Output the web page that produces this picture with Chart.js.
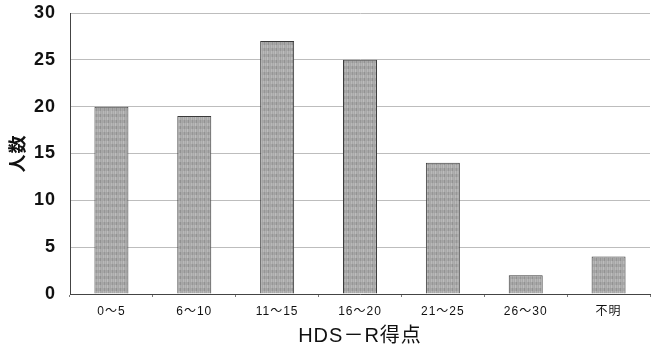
<!DOCTYPE html>
<html>
<head>
<meta charset="utf-8">
<script src="https://cdn.jsdelivr.net/npm/chart.js@4"></script>
<style>
  html, body { margin: 0; padding: 0; background: #fff; }
  #wrap { width: 652px; height: 348px; }
</style>
</head>
<body>
<div id="wrap"><canvas id="hdsChart"></canvas></div>
<script>
const categories = ['0～5', '6～10', '11～15', '16～20', '21～25', '26～30', '不明'];
const counts = [20, 19, 27, 25, 14, 2, 4];
const yTicks = [0, 5, 10, 15, 20, 25, 30];

const FONT = '"Liberation Sans", Arial, "Noto Sans CJK JP", sans-serif';

// grainy gray fill like the scanned original
function barPattern() {
    const c = document.createElement('canvas');
    c.width = 8;
    c.height = 6;
    const g = c.getContext('2d');
    g.fillStyle = '#a8a8a8';
    g.fillRect(0, 0, 8, 6);
    const shades = ['#969696', '#b6b6b6', '#9f9f9f', '#bdbdbd', '#929292', '#afafaf', '#a3a3a3', '#b9b9b9'];
    shades.forEach((s, i) => {
        g.fillStyle = s;
        g.fillRect(i, (i * 3) % 6, 1, 3);
    });
    return g.createPattern(c, 'repeat');
}

// the scanned labels are set wide, so add a little tracking
const letterSpacing = {
    id: 'letterSpacing',
    beforeUpdate(chart) { chart.ctx.letterSpacing = '1px'; },
    beforeDraw(chart) { chart.ctx.letterSpacing = '1px'; }
};

const graph = document.querySelector('#hdsChart');

new Chart(graph, {
    type: 'bar',
    data: {
        labels: categories,
        datasets: [{
            label: '人数',
            data: counts,
            backgroundColor: barPattern(),
            borderColor: '#3a3a3a',
            borderWidth: 1,
            borderSkipped: 'bottom',
            categoryPercentage: 1,
            barPercentage: 0.41
        }]
    },
    plugins: [letterSpacing],
    options: {
        responsive: true,
        maintainAspectRatio: false,
        animation: false,
        layout: { padding: { top: 13, right: 2, left: 0, bottom: 0 } },
        plugins: {
            legend: { display: false },
            tooltip: { enabled: false }
        },
        scales: {
            x: {
                grid: {
                    offset: true,
                    drawOnChartArea: false,
                    tickLength: 3,
                    color: '#777'
                },
                border: { color: '#444', width: 1 },
                ticks: {
                    color: '#111',
                    font: { family: FONT, size: 12 },
                    padding: 7,
                    maxRotation: 0
                },
                title: {
                    display: true,
                    text: 'HDS－R得点',
                    color: '#111',
                    font: { family: FONT, size: 20 },
                    padding: { top: 0, bottom: 0 }
                },
                afterFit: (s) => {
                    s.height = 54;
                    s.paddingLeft = 0;
                    s.paddingRight = 0;
                }
            },
            y: {
                min: 0,
                max: 30,
                afterBuildTicks: (s) => { s.ticks = yTicks.map(v => ({ value: v })); },
                grid: {
                    color: '#bdbdbd',
                    tickLength: 0,
                    drawTicks: false
                },
                border: { color: '#444', width: 1 },
                ticks: {
                    color: '#111',
                    font: { family: FONT, size: 18, weight: 'bold' },
                    padding: 14
                },
                title: {
                    display: true,
                    text: '人数',
                    color: '#111',
                    font: { family: FONT, size: 18, weight: 'bold' },
                    padding: { top: 8, bottom: 0 }
                },
                afterFit: (s) => {
                    s.width = 70;
                    s.paddingTop = 0;
                    s.paddingBottom = 0;
                }
            }
        }
    }
});
</script>
</body>
</html>
